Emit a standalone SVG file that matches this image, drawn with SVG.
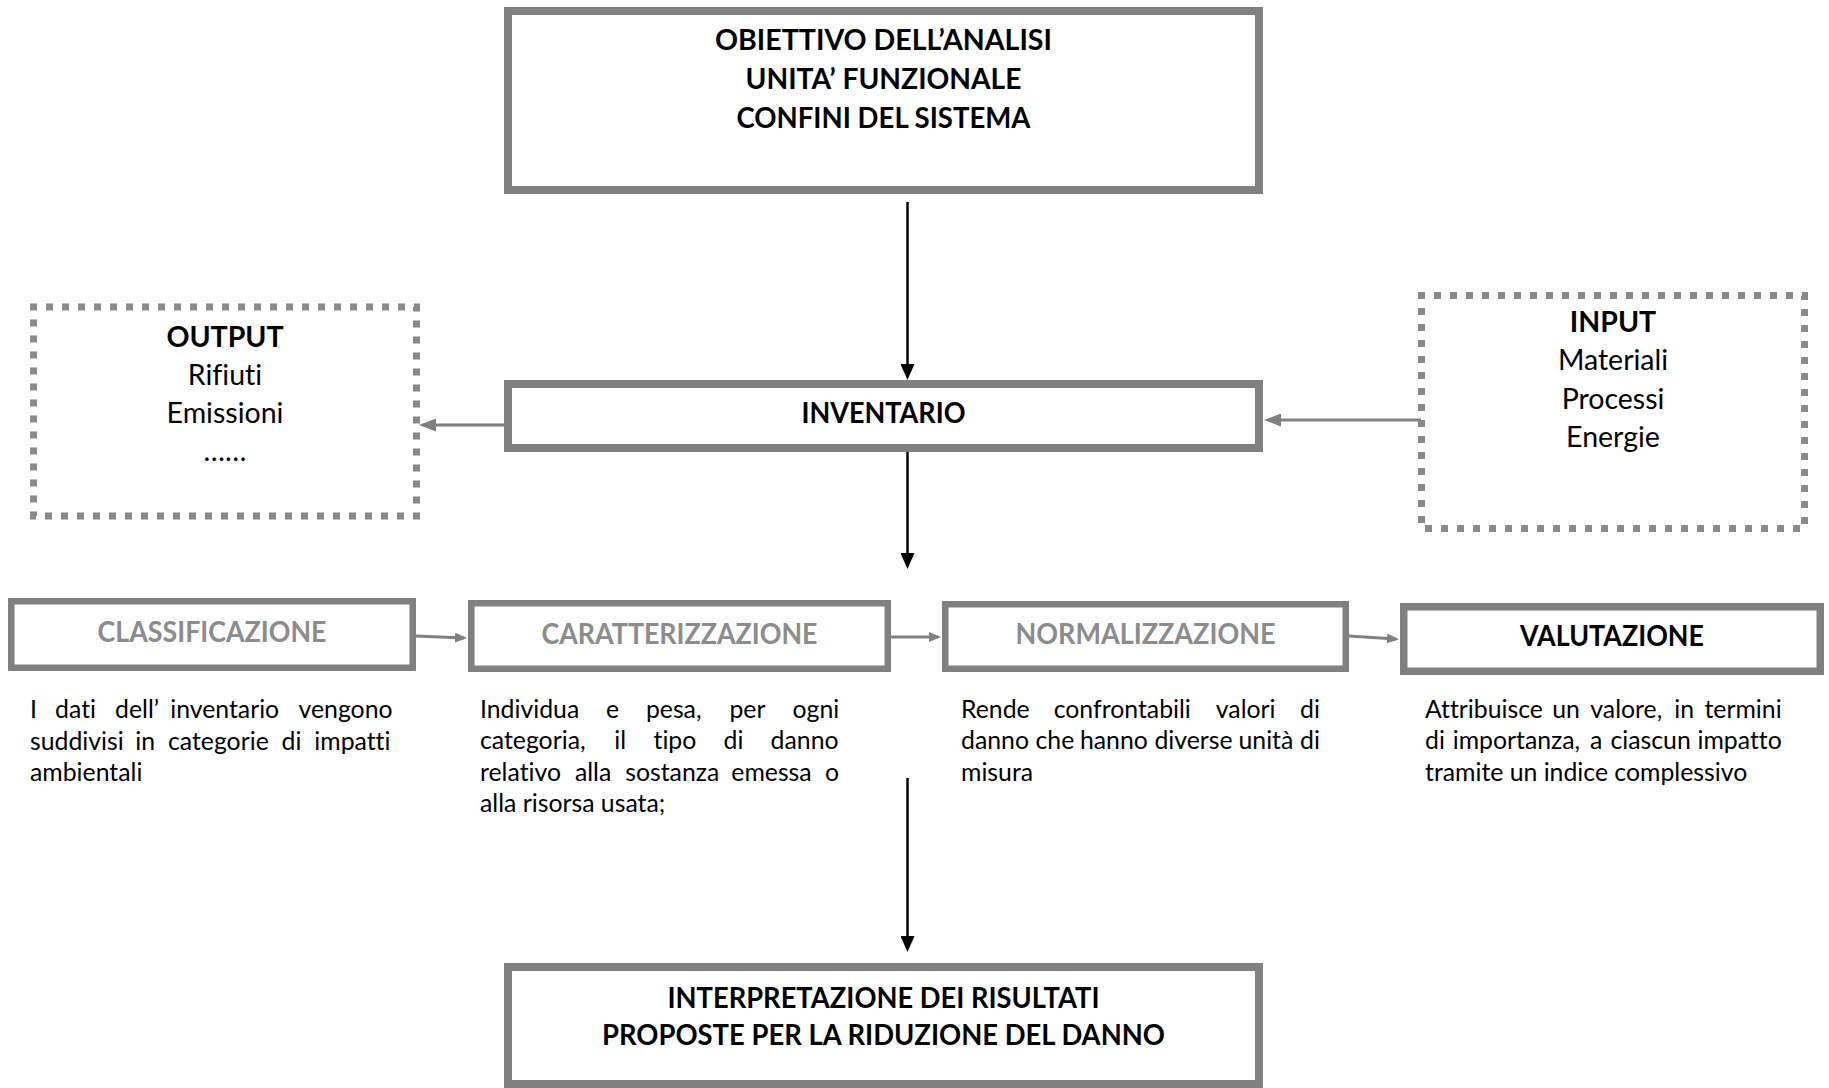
<svg xmlns="http://www.w3.org/2000/svg" width="1829" height="1088" viewBox="0 0 1829 1088">
<defs>
<style>
text{font-variant-ligatures:none;font-feature-settings:"liga" 0,"clig" 0,"dlig" 0}
.box{fill:#fff;stroke:#808080;stroke-width:8}
.step{fill:#fff;stroke:#808080;stroke-width:6.5}
.dot{fill:#fff;stroke:#8a8a8a;stroke-width:7;stroke-dasharray:7 9;stroke-dashoffset:3.5}
.h{font-family:Lato,'Open Sans','Liberation Sans',sans-serif;font-weight:700;font-size:28px;fill:#000;text-anchor:middle}
.hg{fill:#8c8c8c}
.t{font-family:Lato,'Open Sans','Liberation Sans',sans-serif;font-size:28.5px;fill:#000;text-anchor:middle}
.tb{font-weight:700}
.d{font-family:Lato,'Open Sans','Liberation Sans',sans-serif;font-size:24.8px;fill:#000}
.blk{stroke:#000;stroke-width:2.5;fill:none}
.gry{stroke:#808080;stroke-width:2.8;fill:none}
</style>
<marker id="ab" markerUnits="userSpaceOnUse" viewBox="0 0 16 14" refX="12" refY="7" markerWidth="16" markerHeight="14" orient="auto"><path d="M0,0L16,7L0,14z" fill="#000"/></marker>
<marker id="ag" markerUnits="userSpaceOnUse" viewBox="0 0 17 13" refX="13" refY="6.5" markerWidth="17" markerHeight="13" orient="auto"><path d="M0,0L17,6.5L0,13z" fill="#808080"/></marker>
<marker id="as" markerUnits="userSpaceOnUse" viewBox="0 0 12 10" refX="9" refY="5" markerWidth="12" markerHeight="10" orient="auto"><path d="M0,0L12,5L0,10z" fill="#808080"/></marker>
</defs>
<rect x="0" y="0" width="1829" height="1088" fill="#fff"/>

<g id="connectors">
<line class="blk" x1="907.5" y1="202" x2="907.5" y2="376" marker-end="url(#ab)"/>
<line class="blk" x1="907.5" y1="442" x2="907.5" y2="565" marker-end="url(#ab)"/>
<line class="blk" x1="907.5" y1="778" x2="907.5" y2="948" marker-end="url(#ab)"/>
<line class="gry" x1="504" y1="425" x2="423" y2="425" marker-end="url(#ag)"/>
<line class="gry" x1="1421" y1="420" x2="1268" y2="420" marker-end="url(#ag)"/>
<line class="gry" x1="416" y1="636" x2="464" y2="638" marker-end="url(#as)"/>
<line class="gry" x1="891" y1="637" x2="938" y2="637" marker-end="url(#as)"/>
<line class="gry" x1="1349" y1="636" x2="1396" y2="639" marker-end="url(#as)"/>
</g>

<g id="node-obiettivo">
<rect class="box" x="508" y="11" width="751" height="179"/>
<text class="h" x="883.5" y="50" textLength="337" lengthAdjust="spacingAndGlyphs">OBIETTIVO DELL’ANALISI</text>
<text class="h" x="883.5" y="89" textLength="276" lengthAdjust="spacingAndGlyphs">UNITA’ FUNZIONALE</text>
<text class="h" x="883.5" y="127.5" textLength="294" lengthAdjust="spacingAndGlyphs">CONFINI DEL SISTEMA</text>
</g>

<g id="node-inventario">
<rect class="box" x="508" y="384" width="751" height="64"/>
<text class="h" x="883.5" y="423" textLength="164" lengthAdjust="spacingAndGlyphs">INVENTARIO</text>
</g>

<g id="node-output">
<rect class="dot" x="33.5" y="307" width="383" height="209"/>
<text class="t tb" x="225" y="347">OUTPUT</text>
<text class="t" x="225" y="385">Rifiuti</text>
<text class="t" x="225" y="423">Emissioni</text>
<text class="t" x="225" y="461">……</text>
</g>

<g id="node-input">
<rect class="dot" x="1421.5" y="295.5" width="383" height="233"/>
<text class="t tb" x="1613" y="332">INPUT</text>
<text class="t" x="1613" y="370">Materiali</text>
<text class="t" x="1613" y="409">Processi</text>
<text class="t" x="1613" y="447">Energie</text>
</g>

<g id="node-classificazione">
<rect class="step" x="11.25" y="601.25" width="401.5" height="66.5"/>
<text class="h hg" x="212" y="642" textLength="229" lengthAdjust="spacingAndGlyphs">CLASSIFICAZIONE</text>
<text class="d" y="718"><tspan x="30">I </tspan><tspan x="55.1">dati </tspan><tspan x="115.1">dell’</tspan><tspan x="170.2">inventario </tspan><tspan x="298.5">vengono</tspan></text>
<text class="d" y="750"><tspan x="30">suddivisi </tspan><tspan x="135.3">in </tspan><tspan x="168">categorie </tspan><tspan x="281.6">di </tspan><tspan x="314.3">impatti</tspan></text>
<text class="d" x="30" y="781">ambientali</text>
</g>

<g id="node-caratterizzazione">
<rect class="step" x="471.25" y="603.25" width="416.5" height="65.5"/>
<text class="h hg" x="679.5" y="644" textLength="276" lengthAdjust="spacingAndGlyphs">CARATTERIZZAZIONE</text>
<text class="d" y="717.5"><tspan x="480">Individua </tspan><tspan x="605.9">e </tspan><tspan x="645.9">pesa, </tspan><tspan x="729.4">per </tspan><tspan x="792.6">ogni</tspan></text>
<text class="d" y="749"><tspan x="480">categoria, </tspan><tspan x="614.2">il </tspan><tspan x="653.5">tipo </tspan><tspan x="723.5">di </tspan><tspan x="770.6">danno</tspan></text>
<text class="d" y="780.5"><tspan x="480">relativo </tspan><tspan x="574.9">alla </tspan><tspan x="625.2">sostanza </tspan><tspan x="731.3">emessa </tspan><tspan x="825">o</tspan></text>
<text class="d" x="480" y="812">alla risorsa usata;</text>
</g>

<g id="node-normalizzazione">
<rect class="step" x="945.25" y="604.25" width="400.5" height="64.5"/>
<text class="h hg" x="1145.5" y="644" textLength="260" lengthAdjust="spacingAndGlyphs">NORMALIZZAZIONE</text>
<text class="d" y="717.5"><tspan x="961">Rende </tspan><tspan x="1053.7">confrontabili </tspan><tspan x="1215.8">valori </tspan><tspan x="1300">di</tspan></text>
<text class="d" y="749"><tspan x="961">danno </tspan><tspan x="1035.5">che </tspan><tspan x="1079.9">hanno </tspan><tspan x="1154.4">diverse </tspan><tspan x="1238.5">unità </tspan><tspan x="1300.1">di</tspan></text>
<text class="d" x="961" y="780.5">misura</text>
</g>

<g id="node-valutazione">
<rect class="step" x="1403.75" y="606.75" width="416.5" height="64.5" style="stroke-width:7.5"/>
<text class="h" x="1612" y="646" textLength="184" lengthAdjust="spacingAndGlyphs">VALUTAZIONE</text>
<text class="d" y="717.5"><tspan x="1425">Attribuisce </tspan><tspan x="1552.3">un </tspan><tspan x="1590.3">valore, </tspan><tspan x="1674.3">in </tspan><tspan x="1704.5">termini</tspan></text>
<text class="d" y="749"><tspan x="1425">di </tspan><tspan x="1452.7">importanza, </tspan><tspan x="1590">a </tspan><tspan x="1610.4">ciascun </tspan><tspan x="1697.5">impatto</tspan></text>
<text class="d" x="1425" y="780.5">tramite un indice complessivo</text>
</g>

<g id="node-interpretazione">
<rect class="box" x="508" y="967" width="751" height="117"/>
<text class="h" x="883.5" y="1008" textLength="432" lengthAdjust="spacingAndGlyphs">INTERPRETAZIONE DEI RISULTATI</text>
<text class="h" x="883.5" y="1045" textLength="563" lengthAdjust="spacingAndGlyphs">PROPOSTE PER LA RIDUZIONE DEL DANNO</text>
</g>
</svg>
